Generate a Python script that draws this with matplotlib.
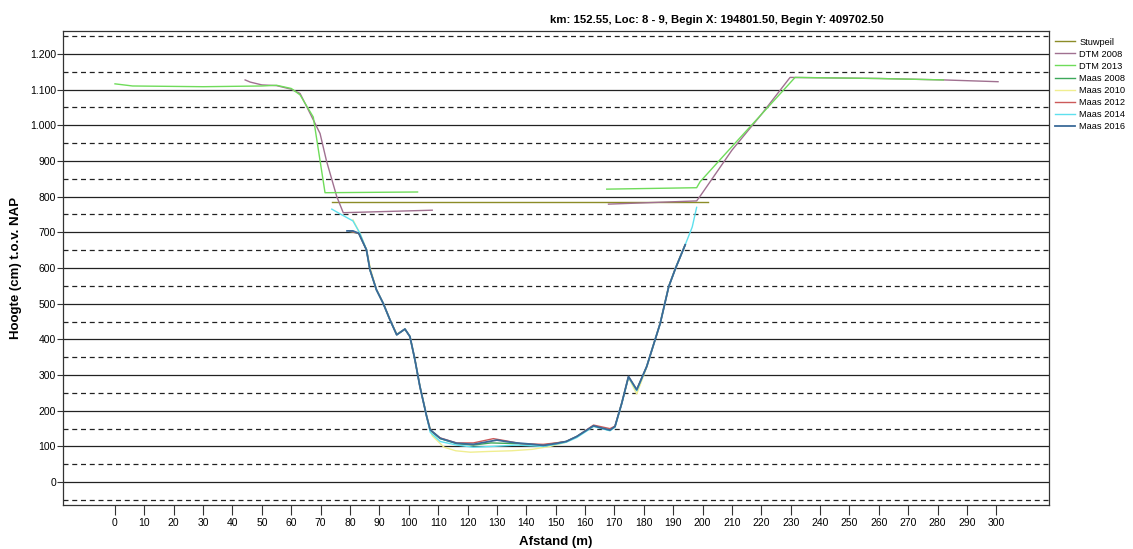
import numpy as np
import matplotlib.pyplot as plt

plt.rcParams['font.family'] = ['Liberation Sans', 'DejaVu Sans']

nan = np.nan

TITLE = 'km: 152.55, Loc: 8 - 9, Begin X: 194801.50, Begin Y: 409702.50'
SERIES = ('Stuwpeil', 'DTM 2008', 'DTM 2013', 'Maas 2008', 'Maas 2010',
          'Maas 2012', 'Maas 2014', 'Maas 2016')
COLORS = ('#8c8c28', '#a07090', '#6fdc5a', '#3da85a', '#f0ee90',
          '#cc5a5a', '#5ee0ee', '#3a6a98')

# weir level
stuw_x = [74, 202]
stuw_y = [786, 786]

# terrain models, gap between the two banks
dtm08_x = [44.3, 46, 50, 55, 60, 63, 66, 69.8, 72, 75.5, 77.7, 108,
           nan, 168, 198, 199.5, 210, 220, 229.8, 260, 282, 300.6]
dtm08_y = [1127, 1121, 1113, 1111, 1101, 1089, 1040, 977, 900, 800, 755, 762,
           nan, 779, 788, 805, 930, 1030, 1134, 1131, 1127, 1122]
dtm13_x = [0, 6, 30, 50, 55, 60, 63, 67.5, 71.5, 103,
           nan, 167.4, 198, 199.2, 210, 220, 231.5, 260, 282]
dtm13_y = [1116, 1110, 1108, 1110, 1112, 1103, 1085, 1023, 811, 813,
           nan, 821, 825, 842, 940, 1030, 1134, 1131, 1127]

# multibeam soundings per survey year
maas08_x = [80, 83, 85.6, 86.8, 89, 91.3, 93.6, 95.9, 98.7, 100.4, 102.1, 103.8,
            106.1, 107.3, 110.7, 116.3, 122, 128, 136.7, 145.8, 153.6, 157.2,
            162.9, 168.5, 170.2, 172.5, 174.8, 177.6, 181, 185.6, 188.5, 190.8, 194.1]
maas08_y = [702, 697, 651, 595, 539, 501, 455, 413, 429, 408, 343, 268,
            184, 145, 122, 108, 104, 110, 108, 104, 114, 128,
            158, 146, 156, 221, 294, 258, 324, 445, 548, 599, 665]
maas10_x = [81, 83.4, 85.6, 87, 89, 91.3, 93.6, 95.9, 98.7, 100.4, 102.1, 103.8,
            106.1, 108, 112, 116, 121, 127, 135, 142, 148, 153.6, 157.2,
            162.9, 168.5, 170.2, 172.5, 174.8, 177.6, 181, 185.6, 188.5, 190.8, 194]
maas10_y = [735, 697, 652, 597, 540, 502, 456, 415, 428, 409, 344, 270,
            186, 130, 98, 88, 84, 86, 88, 92, 100, 112, 127,
            157, 147, 155, 222, 294, 247, 322, 446, 549, 600, 664]
maas12_x = [80, 83, 85.6, 86.8, 89, 91.3, 93.6, 95.9, 98.7, 100.4, 102.1, 103.8,
            106.1, 107.3, 110.7, 116.3, 122, 128.8, 133, 138, 145.8, 150, 153.6,
            157.2, 162.9, 168.5, 170.2, 172.5, 174.8, 177.6, 181, 185.6, 188.5,
            190.8, 194.1]
maas12_y = [703, 697, 651, 595, 539, 501, 455, 413, 429, 408, 343, 268,
            184, 146, 124, 110, 110, 122, 116, 108, 106, 110, 114,
            128, 160, 150, 157, 221, 296, 259, 324, 445, 548, 599, 665]
maas14_x = [73.8, 77, 81, 83.4, 85.6, 86.8, 89, 91.3, 93.6, 95.9, 98.7, 100.4,
            102.1, 103.8, 106.1, 107.3, 110.7, 116.3, 122, 128, 136.7, 145.8,
            150, 153.6, 157.2, 162.9, 168.5, 170.2, 172.5, 174.8, 177.6, 181,
            185.6, 188.5, 190.8, 194.1, 196.5, 198]
maas14_y = [765, 750, 732, 697, 651, 595, 539, 501, 455, 413, 429, 408,
            343, 268, 184, 140, 114, 104, 98, 100, 104, 100,
            106, 112, 125, 156, 144, 154, 220, 295, 256, 324, 445, 548, 599,
            665, 715, 770]
maas16_x = [79, 81, 83, 85.6, 86.8, 89, 91.3, 93.6, 95.9, 98.7, 100.4, 102.1,
            103.8, 106.1, 107.3, 110.7, 116.3, 122, 126, 130, 133, 136.7, 141,
            145.8, 150, 153.6, 157.2, 162.9, 165.5, 168.5, 170.2, 172.5, 174.8,
            177.6, 181, 185.6, 188.5, 190.8, 194.1]
maas16_y = [704, 704, 697, 651, 595, 539, 501, 455, 413, 429, 408, 343,
            268, 184, 147, 123, 109, 106, 112, 118, 114, 110, 107,
            103, 108, 114, 128, 158, 152, 146, 156, 221, 296, 259, 324, 445,
            548, 599, 665]

LINES = [(stuw_x, stuw_y), (dtm08_x, dtm08_y), (dtm13_x, dtm13_y),
         (maas08_x, maas08_y), (maas10_x, maas10_y), (maas12_x, maas12_y),
         (maas14_x, maas14_y), (maas16_x, maas16_y)]

X_TICKS = list(range(0, 301, 10))
Y_TICKS = list(range(0, 1201, 100))
Y_LABELS = ['{:,}'.format(v).replace(',', '.') for v in Y_TICKS]

fig = plt.figure(figsize=(11.33, 5.49), dpi=100)
ax = fig.add_axes([0.0556, 0.0801, 0.8704, 0.8634])

# horizontal reference lines: solid every 100, dashed halfway between
for v in Y_TICKS:
    ax.axhline(v, color='#222222', lw=0.9, zorder=1)
for v in range(-50, 1251, 100):
    ax.axhline(v, color='#222222', lw=0.9, ls=(0, (4, 3)), zorder=1)

handles = []
for name, color, (xs, ys) in zip(SERIES, COLORS, LINES):
    lw = 1.3 if name == 'Maas 2016' else 1.0
    h, = ax.plot(xs, ys, color=color, lw=lw, label=name, zorder=3)
    handles.append(h)

ax.set_xlim(-17.7, 318)
ax.set_ylim(-64, 1264)
ax.set_xticks(X_TICKS)
ax.set_xticklabels([str(v) for v in X_TICKS])
ax.set_yticks(Y_TICKS)
ax.set_yticklabels(Y_LABELS)
ax.tick_params(axis='x', length=7, width=0.8, labelsize=7.5, pad=2, color='#333333')
ax.tick_params(axis='y', length=4, width=0.8, labelsize=7.5, pad=1, color='#333333')
for s in ax.spines.values():
    s.set_color('#333333')
    s.set_linewidth(0.9)

ax.set_xlabel('Afstand (m)', fontsize=9.5, fontweight='bold', labelpad=6)
ax.set_ylabel('Hoogte (cm) t.o.v. NAP', fontsize=9.5, fontweight='bold', labelpad=6)
fig.text(0.633, 0.964, TITLE, fontsize=8.2, fontweight='bold', ha='center', va='center')

fig.legend(handles=handles, loc='upper left', bbox_to_anchor=(0.927, 0.94),
           frameon=False, fontsize=6.7, handlelength=2.2, handletextpad=0.4,
           labelspacing=0.33, borderpad=0)

fig.savefig('out.png', dpi=100)
